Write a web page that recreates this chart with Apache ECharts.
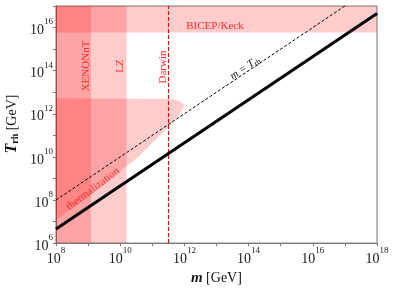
<!DOCTYPE html>
<html><head><meta charset="utf-8">
<script src="https://cdn.jsdelivr.net/npm/echarts@6/dist/echarts.min.js"></script>
<style>html,body{margin:0;padding:0;background:#fff}#c{width:396px;height:291px}</style>
</head><body><div id="c"></div>
<script>
// axis ranges (GeV)
const massRange = [1e8, 1e18];
const tempRange = [1e6, 1e17];
// excluded bands: [massLo, massHi, TLo, THi]
const bandNames = ['XENONnT', 'LZ', 'BICEP/Keck'];
const bandMassLo = [1e8, 1e8, 1e8];
const bandMassHi = [1.23e9, 1.58e10, 1e18];
const bandTLo = [1e6, 1e6, 5.9e15];
const bandTHi = [1e17, 1e17, 1e17];
// thermalization region outline
const thermM = [1e8, 1.15e9, 1.26e10, 2.04e10, 4.17e10, 8.51e10, 1.74e11, 3.55e11, 5.13e11, 6.46e11, 9.77e11, 1e12, 8.51e11, 6.31e11, 3.55e11, 1e8];
const thermT = [1.2e7, 1.66e8, 2.88e9, 4.9e9, 1.17e10, 3.47e10, 1e11, 2.88e11, 4.9e11, 8.32e11, 2.04e12, 2.51e12, 3.24e12, 4.17e12, 4.9e12, 5.25e12];
// Darwin projection
const darwinMass = 3.2e11;
// lines
const eqLineM = [1e8, 1e17];
const eqLineT = [1e8, 1e17];
const boundM = [1e8, 1e18];
const boundT = [4.5e6, 4.5e16];

const FONT = 'Liberation Serif';
const RED = 'rgb(255,40,40)';
const FILL = 'rgba(255,0,0,0.2)';
const L = Math.log10;

function expLabel(v) {
  const e = Math.round(v);
  if (e % 2 !== 0) return '';
  return '{b|10}{s|' + e + '}';
}
const tickRich = {
  b: {fontSize: 14, fontFamily: FONT, color: '#222', lineHeight: 20, verticalAlign: 'bottom'},
  s: {fontSize: 9, fontFamily: FONT, color: '#222', lineHeight: 11, verticalAlign: 'top'}
};
function axisCommon(range) {
  return {
    type: 'value', min: L(range[0]), max: L(range[1]), interval: 1,
    axisLine: {lineStyle: {color: '#777'}},
    axisTick: {inside: false, length: 3, lineStyle: {color: '#777'}},
    splitLine: {show: false}, minorTick: {show: false},
    axisLabel: {formatter: expLabel, rich: tickRich, margin: 3, interval: 0, hideOverlap: false, showMinLabel: true, showMaxLabel: true}
  };
}

const chart = echarts.init(document.getElementById('c'), null, {renderer: 'canvas'});
chart.setOption({
  animation: false,
  grid: {left: 56, right: 19, top: 6, bottom: 46, show: true, borderColor: '#777', borderWidth: 1, backgroundColor: 'transparent'},
  xAxis: Object.assign(axisCommon(massRange), {
    name: '{m|m} {g|[GeV]}', nameLocation: 'middle', nameGap: 22,
    nameTextStyle: {rich: {
      m: {fontSize: 15, fontFamily: FONT, fontStyle: 'italic', fontWeight: 'bold', color: '#111'},
      g: {fontSize: 14, fontFamily: FONT, color: '#111'}
    }}
  }),
  yAxis: axisCommon(tempRange),
  series: [
    {
      type: 'custom', z: 1, silent: true,
      data: bandNames.map((n, i) => [L(bandMassLo[i]), L(bandTLo[i]), L(bandMassHi[i]), L(bandTHi[i])]),
      renderItem: (params, api) => {
        const p0 = api.coord([api.value(0), api.value(1)]);
        const p1 = api.coord([api.value(2), api.value(3)]);
        return {type: 'rect', shape: {x: p0[0], y: p1[1], width: p1[0] - p0[0], height: p0[1] - p1[1]}, style: {fill: FILL}};
      }
    },
    {
      type: 'custom', z: 1, silent: true,
      data: [[L(thermM[0]), L(thermT[0])]],
      renderItem: (params, api) => ({
        type: 'polygon',
        shape: {points: thermM.map((m, i) => api.coord([L(m), L(thermT[i])]))},
        style: {fill: FILL}
      })
    },
    {
      type: 'line', z: 2, symbol: 'none', silent: true,
      data: [[L(darwinMass), L(tempRange[0])], [L(darwinMass), L(tempRange[1])]],
      itemStyle: {color: '#ff0000'},
      lineStyle: {color: '#ff0000', width: 1.2, type: [4, 2]}
    },
    {
      type: 'line', z: 3, symbol: 'none', silent: true,
      data: eqLineM.map((m, i) => [L(m), L(eqLineT[i])]),
      lineStyle: {color: '#000', width: 1, type: [3, 2]}
    },
    {
      type: 'line', z: 4, symbol: 'none', silent: true,
      data: boundM.map((m, i) => [L(m), L(boundT[i])]),
      lineStyle: {color: '#000', width: 3}
    }
  ],
  graphic: [
    {type: 'text', x: 12, y: 124, rotation: Math.PI / 2, z: 10, style: {
      text: '{t|T}{r|rh} {g|[GeV]}', textAlign: 'center', textVerticalAlign: 'middle',
      rich: {
        t: {fontSize: 16, fontFamily: FONT, fontStyle: 'italic', fontWeight: 'bold', fill: '#111', lineHeight: 18, verticalAlign: 'middle'},
        r: {fontSize: 10, fontFamily: FONT, fontWeight: 'bold', fill: '#111', lineHeight: 18, verticalAlign: 'middle', padding: [7, 0, 0, 0]},
        g: {fontSize: 14, fontFamily: FONT, fill: '#111', lineHeight: 18, verticalAlign: 'middle'}
      }
    }},
    {type: 'text', x: 86, y: 66, rotation: Math.PI / 2, z: 10, style: {text: 'XENONnT', font: '11px ' + FONT, fill: RED, textAlign: 'center', textVerticalAlign: 'middle'}},
    {type: 'text', x: 120, y: 66, rotation: Math.PI / 2, z: 10, style: {text: 'LZ', font: '11px ' + FONT, fill: RED, textAlign: 'center', textVerticalAlign: 'middle'}},
    {type: 'text', x: 163, y: 67, rotation: Math.PI / 2, z: 10, style: {text: 'Darwin', font: '11px ' + FONT, fill: RED, textAlign: 'center', textVerticalAlign: 'middle'}},
    {type: 'text', x: 215, y: 26, z: 10, style: {text: 'BICEP/Keck', font: '11px ' + FONT, fill: RED, textAlign: 'center', textVerticalAlign: 'middle'}},
    {type: 'text', x: 93, y: 189, rotation: 37 * Math.PI / 180, z: 10, style: {text: 'thermalization', font: '11px ' + FONT, fill: RED, textAlign: 'center', textVerticalAlign: 'middle'}},
    {type: 'text', x: 245, y: 68, rotation: 34 * Math.PI / 180, z: 10, style: {
      text: '{i|m} {e|=} {i|T}{r|rh}', textAlign: 'center', textVerticalAlign: 'middle',
      rich: {
        i: {fontSize: 11, fontFamily: FONT, fontStyle: 'italic', fill: '#111', lineHeight: 13, verticalAlign: 'middle'},
        e: {fontSize: 11, fontFamily: FONT, fill: '#111', lineHeight: 13, verticalAlign: 'middle'},
        r: {fontSize: 8, fontFamily: FONT, fill: '#111', lineHeight: 13, verticalAlign: 'middle', padding: [5, 0, 0, 0]}
      }
    }}
  ]
});
</script></body></html>
